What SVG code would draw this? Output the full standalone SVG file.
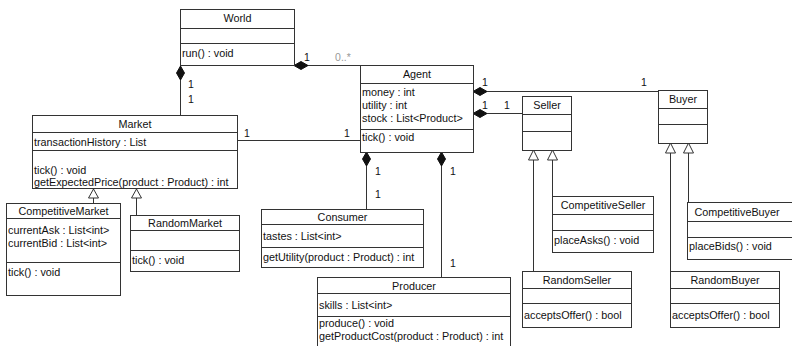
<svg xmlns="http://www.w3.org/2000/svg" width="792" height="346" viewBox="0 0 792 346">
<style>
.box{fill:#fff;stroke:#333;stroke-width:1}
.sep{stroke:#333;stroke-width:1}
.t{font-family:"Liberation Sans",Arial,sans-serif;font-size:10.8px;fill:#111}
.c{text-anchor:middle}
.conn{stroke:#333;stroke-width:1;fill:none}
.dia{fill:#111;stroke:#111;stroke-width:1}
.tri{fill:#fff;stroke:#333;stroke-width:1}
.m{font-family:"Liberation Sans",Arial,sans-serif;font-size:10.5px;fill:#111;text-anchor:middle}
.g{fill:#999}
</style>
<rect width="792" height="346" fill="#fff"/>
<g id="connectors">
  <line class="conn" x1="294" y1="65.5" x2="360" y2="65.5"/>
  <polygon class="dia" points="294,65.5 301,61.5 308,65.5 301,69.5"/>
  <line class="conn" x1="180.5" y1="66" x2="180.5" y2="115"/>
  <polygon class="dia" points="180.5,66 184.5,73 180.5,80 176.5,73"/>
  <line class="conn" x1="237" y1="140.5" x2="360" y2="140.5"/>
  <line class="conn" x1="366.5" y1="152" x2="366.5" y2="209"/>
  <polygon class="dia" points="366.5,152 370.5,159 366.5,166 362.5,159"/>
  <line class="conn" x1="441.5" y1="152" x2="441.5" y2="277"/>
  <polygon class="dia" points="441.5,152 445.5,159 441.5,166 437.5,159"/>
  <line class="conn" x1="473" y1="91.5" x2="658" y2="91.5"/>
  <polygon class="dia" points="473,91.5 480,87.5 487,91.5 480,95.5"/>
  <line class="conn" x1="473" y1="113.5" x2="522" y2="113.5"/>
  <polygon class="dia" points="473,113.5 480,109.5 487,113.5 480,117.5"/>
  <line class="conn" x1="93.5" y1="198" x2="93.5" y2="203"/>
  <polygon class="tri" points="93.5,189 98.5,198 88.5,198"/>
  <line class="conn" x1="136.5" y1="198" x2="136.5" y2="215"/>
  <polygon class="tri" points="136.5,189 141.5,198 131.5,198"/>
  <line class="conn" x1="533.5" y1="160" x2="533.5" y2="271"/>
  <polygon class="tri" points="533.5,150 538.5,160 528.5,160"/>
  <line class="conn" x1="552.5" y1="160" x2="552.5" y2="196"/>
  <polygon class="tri" points="552.5,150 557.5,160 547.5,160"/>
  <line class="conn" x1="670.5" y1="153" x2="670.5" y2="271"/>
  <polygon class="tri" points="670.5,143 675.5,153 665.5,153"/>
  <line class="conn" x1="688.5" y1="153" x2="688.5" y2="202"/>
  <polygon class="tri" points="688.5,143 693.5,153 683.5,153"/>
  <text class="m" x="307" y="61">1</text>
  <text class="m g" x="343" y="61">0..*</text>
  <text class="m" x="191" y="88">1</text>
  <text class="m" x="191" y="103">1</text>
  <text class="m" x="247" y="137">1</text>
  <text class="m" x="347" y="137">1</text>
  <text class="m" x="378" y="175">1</text>
  <text class="m" x="378" y="198">1</text>
  <text class="m" x="453" y="175">1</text>
  <text class="m" x="453" y="267">1</text>
  <text class="m" x="485" y="86">1</text>
  <text class="m" x="644" y="86">1</text>
  <text class="m" x="485" y="109">1</text>
  <text class="m" x="507" y="109">1</text>
</g>
<g id="World">
  <rect class="box" x="180.5" y="9.5" width="114" height="56"/>
  <line class="sep" x1="180.5" y1="28.5" x2="294.5" y2="28.5"/>
  <line class="sep" x1="180.5" y1="43.5" x2="294.5" y2="43.5"/>
  <text class="t c" x="237.5" y="22">World</text>
  <text class="t" x="182" y="57">run() : void</text>
</g>
<g id="Agent">
  <rect class="box" x="360.5" y="65.5" width="113" height="87"/>
  <line class="sep" x1="360.5" y1="83.5" x2="473.5" y2="83.5"/>
  <line class="sep" x1="360.5" y1="129.5" x2="473.5" y2="129.5"/>
  <text class="t c" x="417" y="78">Agent</text>
  <text class="t" x="362" y="96">money : int</text>
  <text class="t" x="362" y="109">utility : int</text>
  <text class="t" x="362" y="122">stock : List&lt;Product&gt;</text>
  <text class="t" x="362" y="141">tick() : void</text>
</g>
<g id="Market">
  <rect class="box" x="32.5" y="115.5" width="205" height="73"/>
  <line class="sep" x1="32.5" y1="132.5" x2="237.5" y2="132.5"/>
  <line class="sep" x1="32.5" y1="150.5" x2="237.5" y2="150.5"/>
  <text class="t c" x="135" y="128">Market</text>
  <text class="t" x="34" y="146">transactionHistory : List</text>
  <text class="t" x="34" y="174">tick() : void</text>
  <text class="t" x="34" y="186">getExpectedPrice(product : Product) : int</text>
</g>
<g id="CompetitiveMarket">
  <rect class="box" x="6.5" y="203.5" width="114" height="92"/>
  <line class="sep" x1="6.5" y1="218.5" x2="120.5" y2="218.5"/>
  <line class="sep" x1="6.5" y1="262.5" x2="120.5" y2="262.5"/>
  <text class="t c" x="63.5" y="215">CompetitiveMarket</text>
  <text class="t" x="8" y="234">currentAsk : List&lt;int&gt;</text>
  <text class="t" x="8" y="247">currentBid : List&lt;int&gt;</text>
  <text class="t" x="8" y="276">tick() : void</text>
</g>
<g id="RandomMarket">
  <rect class="box" x="130.5" y="215.5" width="109" height="56"/>
  <line class="sep" x1="130.5" y1="230.5" x2="239.5" y2="230.5"/>
  <line class="sep" x1="130.5" y1="250.5" x2="239.5" y2="250.5"/>
  <text class="t c" x="185" y="227">RandomMarket</text>
  <text class="t" x="132" y="264">tick() : void</text>
</g>
<g id="Consumer">
  <rect class="box" x="261.5" y="209.5" width="162" height="58"/>
  <line class="sep" x1="261.5" y1="224.5" x2="423.5" y2="224.5"/>
  <line class="sep" x1="261.5" y1="247.5" x2="423.5" y2="247.5"/>
  <text class="t c" x="342.5" y="221">Consumer</text>
  <text class="t" x="263" y="240">tastes : List&lt;int&gt;</text>
  <text class="t" x="263" y="261">getUtility(product : Product) : int</text>
</g>
<g id="Producer">
  <rect class="box" x="317.5" y="277.5" width="193" height="80"/>
  <line class="sep" x1="317.5" y1="293.5" x2="510.5" y2="293.5"/>
  <line class="sep" x1="317.5" y1="316.5" x2="510.5" y2="316.5"/>
  <text class="t c" x="414" y="290">Producer</text>
  <text class="t" x="319" y="309">skills : List&lt;int&gt;</text>
  <text class="t" x="319" y="327">produce() : void</text>
  <text class="t" x="319" y="340">getProductCost(product : Product) : int</text>
</g>
<g id="Seller">
  <rect class="box" x="522.5" y="96.5" width="49" height="54"/>
  <line class="sep" x1="522.5" y1="114.5" x2="571.5" y2="114.5"/>
  <line class="sep" x1="522.5" y1="131.5" x2="571.5" y2="131.5"/>
  <text class="t c" x="547" y="109">Seller</text>
</g>
<g id="Buyer">
  <rect class="box" x="658.5" y="90.5" width="49" height="53"/>
  <line class="sep" x1="658.5" y1="108.5" x2="707.5" y2="108.5"/>
  <line class="sep" x1="658.5" y1="124.5" x2="707.5" y2="124.5"/>
  <text class="t c" x="683" y="103">Buyer</text>
</g>
<g id="CompetitiveSeller">
  <rect class="box" x="552.5" y="196.5" width="101" height="56"/>
  <line class="sep" x1="552.5" y1="214.5" x2="653.5" y2="214.5"/>
  <line class="sep" x1="552.5" y1="230.5" x2="653.5" y2="230.5"/>
  <text class="t c" x="603" y="209">CompetitiveSeller</text>
  <text class="t" x="554" y="244">placeAsks() : void</text>
</g>
<g id="CompetitiveBuyer">
  <rect class="box" x="687.5" y="202.5" width="112" height="57"/>
  <line class="sep" x1="687.5" y1="221.5" x2="799.5" y2="221.5"/>
  <line class="sep" x1="687.5" y1="237.5" x2="799.5" y2="237.5"/>
  <text class="t c" x="737" y="216">CompetitiveBuyer</text>
  <text class="t" x="689" y="250">placeBids() : void</text>
</g>
<g id="RandomSeller">
  <rect class="box" x="522.5" y="271.5" width="109" height="56"/>
  <line class="sep" x1="522.5" y1="288.5" x2="631.5" y2="288.5"/>
  <line class="sep" x1="522.5" y1="303.5" x2="631.5" y2="303.5"/>
  <text class="t c" x="577" y="284">RandomSeller</text>
  <text class="t" x="524" y="319">acceptsOffer() : bool</text>
</g>
<g id="RandomBuyer">
  <rect class="box" x="670.5" y="271.5" width="109" height="56"/>
  <line class="sep" x1="670.5" y1="288.5" x2="779.5" y2="288.5"/>
  <line class="sep" x1="670.5" y1="303.5" x2="779.5" y2="303.5"/>
  <text class="t c" x="725" y="284">RandomBuyer</text>
  <text class="t" x="672" y="319">acceptsOffer() : bool</text>
</g>
</svg>
